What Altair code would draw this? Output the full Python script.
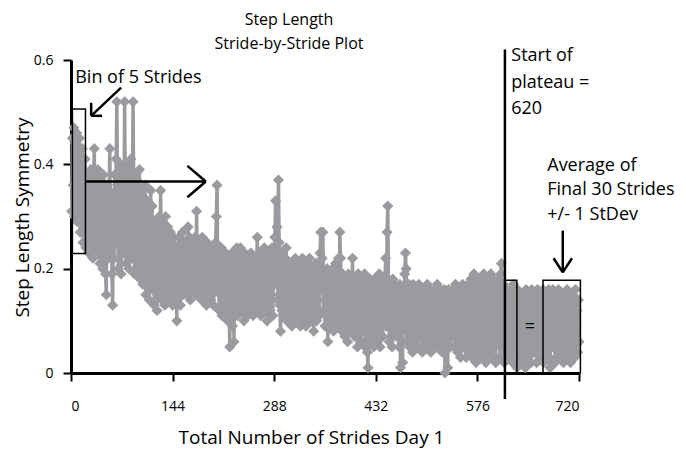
import altair as alt
import pandas as pd

# Step length symmetry, one value per stride (rows of 20 strides)
symmetry = [
    0.31, 0.45, 0.36, 0.47, 0.30, 0.44, 0.38, 0.46, 0.29, 0.41, 0.33, 0.45, 0.27, 0.39, 0.34, 0.43, 0.25, 0.37, 0.30, 0.41,
    0.24, 0.36, 0.27, 0.38, 0.23, 0.34, 0.29, 0.39, 0.25, 0.35, 0.22, 0.37, 0.43, 0.28, 0.36, 0.24, 0.33, 0.39, 0.23, 0.35,
    0.21, 0.37, 0.26, 0.34, 0.20, 0.38, 0.24, 0.33, 0.19, 0.15, 0.31, 0.36, 0.22, 0.35, 0.43, 0.25, 0.34, 0.19, 0.13, 0.30,
    0.22, 0.38, 0.25, 0.41, 0.52, 0.30, 0.20, 0.37, 0.27, 0.40, 0.19, 0.35, 0.28, 0.39, 0.23, 0.52, 0.33, 0.21, 0.38, 0.26,
    0.40, 0.20, 0.36, 0.29, 0.41, 0.22, 0.34, 0.52, 0.31, 0.19, 0.38, 0.25, 0.37, 0.20, 0.33, 0.27, 0.39, 0.18, 0.35, 0.24,
    0.34, 0.17, 0.30, 0.22, 0.36, 0.15, 0.28, 0.33, 0.19, 0.31, 0.14, 0.27, 0.35, 0.20, 0.32, 0.16, 0.29, 0.13, 0.26, 0.21,
    0.28, 0.12, 0.27, 0.18, 0.30, 0.15, 0.35, 0.22, 0.14, 0.29, 0.17, 0.26, 0.13, 0.30, 0.20, 0.15, 0.28, 0.18, 0.24, 0.14,
    0.27, 0.16, 0.25, 0.13, 0.26, 0.19, 0.14, 0.24, 0.17, 0.10, 0.23, 0.15, 0.26, 0.18, 0.13, 0.25, 0.20, 0.27, 0.15, 0.23,
    0.16, 0.25, 0.19, 0.24, 0.15, 0.28, 0.18, 0.26, 0.14, 0.23, 0.20, 0.25, 0.16, 0.24, 0.17, 0.26, 0.15, 0.31, 0.19, 0.24,
    0.15, 0.25, 0.18, 0.23, 0.14, 0.26, 0.17, 0.22, 0.15, 0.24, 0.19, 0.13, 0.25, 0.16, 0.23, 0.18, 0.24, 0.14, 0.22, 0.15,
    0.24, 0.13, 0.22, 0.16, 0.25, 0.30, 0.36, 0.17, 0.21, 0.12, 0.23, 0.15, 0.24, 0.11, 0.22, 0.17, 0.20, 0.12, 0.23, 0.14,
    0.21, 0.10, 0.22, 0.13, 0.05, 0.20, 0.15, 0.23, 0.09, 0.21, 0.06, 0.19, 0.12, 0.22, 0.24, 0.11, 0.20, 0.14, 0.21, 0.24,
    0.12, 0.22, 0.15, 0.20, 0.10, 0.23, 0.13, 0.21, 0.16, 0.11, 0.22, 0.14, 0.20, 0.12, 0.23, 0.15, 0.19, 0.11, 0.21, 0.13,
    0.22, 0.14, 0.20, 0.26, 0.12, 0.21, 0.16, 0.23, 0.11, 0.20, 0.15, 0.22, 0.13, 0.24, 0.12, 0.21, 0.16, 0.10, 0.22, 0.14,
    0.23, 0.12, 0.21, 0.15, 0.24, 0.11, 0.22, 0.17, 0.26, 0.33, 0.20, 0.28, 0.14, 0.37, 0.25, 0.13, 0.08, 0.21, 0.12, 0.23,
    0.11, 0.20, 0.14, 0.22, 0.24, 0.10, 0.19, 0.13, 0.21, 0.11, 0.20, 0.15, 0.09, 0.21, 0.12, 0.19, 0.10, 0.22, 0.13, 0.20,
    0.11, 0.21, 0.13, 0.19, 0.09, 0.20, 0.14, 0.22, 0.10, 0.18, 0.12, 0.21, 0.09, 0.19, 0.15, 0.20, 0.10, 0.22, 0.12, 0.19,
    0.10, 0.20, 0.13, 0.08, 0.19, 0.12, 0.21, 0.10, 0.18, 0.14, 0.20, 0.11, 0.23, 0.27, 0.16, 0.22, 0.27, 0.12, 0.19, 0.09,
    0.18, 0.11, 0.20, 0.06, 0.17, 0.12, 0.19, 0.09, 0.18, 0.13, 0.20, 0.08, 0.17, 0.11, 0.21, 0.10, 0.18, 0.13, 0.22, 0.09,
    0.27, 0.22, 0.17, 0.08, 0.19, 0.11, 0.16, 0.07, 0.18, 0.12, 0.17, 0.06, 0.19, 0.10, 0.16, 0.08, 0.18, 0.12, 0.22, 0.09,
    0.17, 0.07, 0.18, 0.10, 0.16, 0.05, 0.19, 0.09, 0.17, 0.12, 0.06, 0.18, 0.08, 0.16, 0.11, 0.19, 0.05, 0.17, 0.09, 0.04,
    0.01, 0.16, 0.08, 0.18, 0.06, 0.17, 0.10, 0.15, 0.05, 0.18, 0.08, 0.16, 0.11, 0.06, 0.17, 0.09, 0.19, 0.05, 0.16, 0.10,
    0.17, 0.07, 0.16, 0.10, 0.18, 0.22, 0.09, 0.27, 0.32, 0.15, 0.06, 0.17, 0.11, 0.16, 0.05, 0.18, 0.08, 0.15, 0.12, 0.17,
    0.07, 0.16, 0.09, 0.15, 0.05, 0.17, 0.01, 0.14, 0.08, 0.02, 0.16, 0.10, 0.19, 0.23, 0.20, 0.06, 0.15, 0.09, 0.17, 0.05,
    0.16, 0.08, 0.15, 0.04, 0.17, 0.10, 0.14, 0.06, 0.16, 0.09, 0.15, 0.05, 0.17, 0.11, 0.14, 0.07, 0.16, 0.04, 0.15, 0.09,
    0.16, 0.06, 0.15, 0.10, 0.17, 0.05, 0.14, 0.08, 0.16, 0.04, 0.15, 0.09, 0.13, 0.06, 0.16, 0.10, 0.15, 0.05, 0.17, 0.08,
    0.14, 0.06, 0.16, 0.09, 0.15, 0.04, 0.13, 0.10, 0.16, 0.00, 0.14, 0.07, 0.15, 0.01, 0.16, 0.08, 0.13, 0.05, 0.15, 0.09,
    0.16, 0.07, 0.14, 0.05, 0.17, 0.09, 0.15, 0.04, 0.16, 0.08, 0.13, 0.03, 0.15, 0.10, 0.17, 0.05, 0.14, 0.08, 0.16, 0.03,
    0.15, 0.07, 0.17, 0.04, 0.16, 0.09, 0.18, 0.03, 0.15, 0.08, 0.19, 0.05, 0.14, 0.02, 0.17, 0.10, 0.16, 0.04, 0.18, 0.06,
    0.15, 0.03, 0.17, 0.08, 0.19, 0.05, 0.16, 0.02, 0.18, 0.09, 0.15, 0.04, 0.17, 0.07, 0.19, 0.03, 0.16, 0.10, 0.18, 0.05,
    0.14, 0.02, 0.17, 0.06, 0.18, 0.09, 0.16, 0.03, 0.19, 0.21, 0.12, 0.05, 0.17, 0.02, 0.15, 0.08, 0.16, 0.04, 0.14, 0.07,
    0.15, 0.03, 0.16, 0.06, 0.14, 0.02, 0.17, 0.08, 0.15, 0.04, 0.13, 0.01, 0.16, 0.07, 0.14, 0.03, 0.15, 0.09, 0.13, 0.02,
    0.15, 0.05, 0.14, 0.01, 0.16, 0.07, 0.13, 0.03, 0.15, 0.09, 0.14, 0.02, 0.16, 0.06, 0.13, 0.04, 0.15, 0.08, 0.14, 0.02,
    0.16, 0.05, 0.13, 0.08, 0.15, 0.03, 0.14, 0.06, 0.16, 0.02, 0.13, 0.07, 0.15, 0.04, 0.14, 0.09, 0.16, 0.03, 0.01, 0.12,
    0.14, 0.05, 0.16, 0.08, 0.13, 0.02, 0.15, 0.06, 0.14, 0.03, 0.16, 0.09, 0.12, 0.04, 0.15, 0.07, 0.13, 0.02, 0.15, 0.06,
    0.14, 0.03, 0.16, 0.08, 0.12, 0.04, 0.15, 0.02, 0.13, 0.07, 0.15, 0.05, 0.14, 0.03, 0.16, 0.09, 0.12, 0.04, 0.14, 0.06,
]
strides = list(range(1, len(symmetry) + 1))

x_ticks = [0, 144, 288, 432, 576, 720]
y_ticks = [0, 0.2, 0.4, 0.6]
title_lines = ["Step Length", "Stride-by-Stride Plot"]

# annotation texts (left aligned): text, stride, value
note_text = ["Bin of 5 Strides", "Start of", "plateau =", "620",
             "Average of", "Final 30 Strides", "+/- 1 StDev", "="]
note_x = [6, 624, 624, 624, 675, 675, 675, 643]
note_y = [0.566, 0.608, 0.556, 0.506, 0.396, 0.350, 0.302, 0.088]

# boxes: stride range, value range
box_x = [2, 615, 669]
box_x2 = [20.5, 632, 722]
box_y = [0.229, 0.0, 0.0]
box_y2 = [0.506, 0.178, 0.178]

# arrow / line segments
seg_x = [71, 28.6, 28.6, 20.5, 165, 165, 697, 684, 710]
seg_y = [0.547, 0.493, 0.493, 0.367, 0.397, 0.337, 0.273, 0.22, 0.22]
seg_x2 = [28.6, 44, 28.6, 191, 191, 191, 697, 697, 697]
seg_y2 = [0.493, 0.493, 0.518, 0.367, 0.367, 0.367, 0.193, 0.193, 0.193]

plateau_x = [615]
plateau_y = [0.62]
plateau_y2 = [-0.05]

FONT = "Open Sans"
GRAY = "#9a9b9e"

df = pd.DataFrame({"stride": strides, "sym": symmetry})
notes = pd.DataFrame({"text": note_text, "x": note_x, "y": note_y})
boxes = pd.DataFrame({"x": box_x, "x2": box_x2, "y": box_y, "y2": box_y2})
segs = pd.DataFrame({"x": seg_x, "y": seg_y, "x2": seg_x2, "y2": seg_y2})
plateau = pd.DataFrame({"x": plateau_x, "y": plateau_y, "y2": plateau_y2})

xs = alt.Scale(domain=[0, 720], nice=False, zero=False)
ys = alt.Scale(domain=[0, 0.6], nice=False)

x_axis = alt.Axis(values=x_ticks, title="Total Number of Strides Day 1",
                  labelPadding=18, titleX=240, titleY=64, titleBaseline="middle")
y_axis = alt.Axis(values=y_ticks, title="Step Length Symmetry",
                  labelExpr="datum.value == 0 ? '0' : format(datum.value, '.1f')",
                  labelPadding=10, titleX=-49, titleY=157, titleAngle=270,
                  titleAlign="center", titleBaseline="middle")

line = alt.Chart(df).mark_line(color=GRAY, strokeWidth=3.5).encode(
    x=alt.X("stride:Q", scale=xs, axis=x_axis),
    y=alt.Y("sym:Q", scale=ys, axis=y_axis),
)
points = alt.Chart(df).mark_point(shape="diamond", filled=True, size=125,
                                  color=GRAY, opacity=1).encode(
    x=alt.X("stride:Q", scale=xs),
    y=alt.Y("sym:Q", scale=ys),
)
rects = alt.Chart(boxes).mark_rect(fillOpacity=0, stroke="black", strokeWidth=1.5).encode(
    x=alt.X("x:Q", scale=xs), x2="x2:Q",
    y=alt.Y("y:Q", scale=ys), y2="y2:Q",
)
arrows = alt.Chart(segs).mark_rule(color="black", strokeWidth=2.5).encode(
    x=alt.X("x:Q", scale=xs), x2="x2:Q",
    y=alt.Y("y:Q", scale=ys), y2="y2:Q",
)
pline = alt.Chart(plateau).mark_rule(color="black", strokeWidth=2.5).encode(
    x=alt.X("x:Q", scale=xs),
    y=alt.Y("y:Q", scale=ys), y2="y2:Q",
)
texts = alt.Chart(notes).mark_text(align="left", baseline="middle", font=FONT,
                                   fontSize=18, color="black").encode(
    x=alt.X("x:Q", scale=xs),
    y=alt.Y("y:Q", scale=ys),
    text="text:N",
)

chart = alt.layer(line, points, rects, arrows, pline, texts).properties(
    width=508, height=313,
    autosize=alt.AutoSizeParams(type="none"),
    padding={"left": 63, "top": 52, "right": 99, "bottom": 76},
    title=alt.Title(text=title_lines, font=FONT, fontSize=16, fontWeight="normal",
                    color="black", lineHeight=24, anchor="middle", dx=-36, offset=-5),
).configure_view(stroke=None).configure_axis(
    grid=False, domainColor="black", domainWidth=3, tickColor="black", tickWidth=2,
    tickSize=8, labelFont=FONT, labelFontSize=14, labelColor="black",
    titleFont=FONT, titleFontSize=19, titleFontWeight="normal", titleColor="black",
)

chart.save("out.html", embed_options={"renderer": "svg", "actions": False})
